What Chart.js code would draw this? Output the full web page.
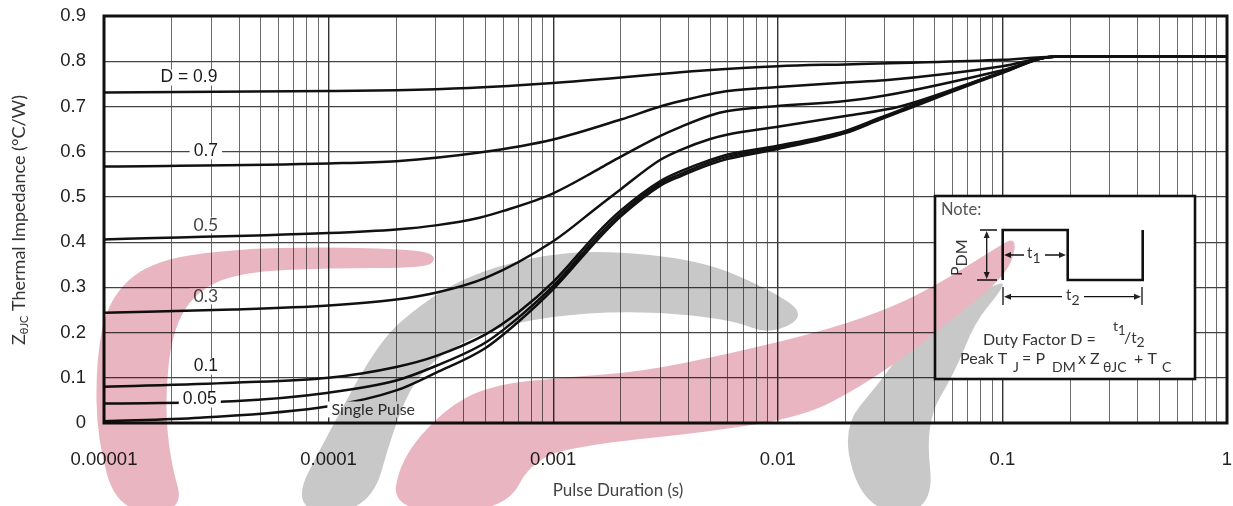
<!DOCTYPE html>
<html>
<head>
<meta charset="utf-8">
<script src="https://cdn.jsdelivr.net/npm/chart.js@4.4.0/dist/chart.umd.min.js"></script>
<style>
  html, body { margin: 0; padding: 0; background: #fff; }
  #wrap { width: 1233px; height: 506px; }
</style>
</head>
<body>
<div id="wrap"><canvas id="zth" width="1233" height="506"></canvas></div>
<script>
/* Transient thermal impedance, junction to case */

const xTickLabels = ["0.00001", "0.0001", "0.001", "0.01", "0.1", "1"];
const yTickValues = [0, 0.1, 0.2, 0.3, 0.4, 0.5, 0.6, 0.7, 0.8, 0.9];
const yTickLabels = ["0", "0.1", "0.2", "0.3", "0.4", "0.5", "0.6", "0.7", "0.8", "0.9"];

// pulse duration (s) / Zth (°C/W), one pair per duty factor
const d09Time = [1e-5, 1e-4, 2e-4, 4.2e-4, 1e-3, 2e-3, 3e-3, 4.5e-3, 1e-2, 2e-2, 3.5e-2, 0.1, 0.17, 1];
const d09Z    = [0.731, 0.734, 0.736, 0.741, 0.752, 0.764, 0.772, 0.779, 0.789, 0.793, 0.796, 0.803, 0.810, 0.810];

const d07Time = [1e-5, 1e-4, 2e-4, 4.7e-4, 1e-3, 2e-3, 3e-3, 3.7e-3, 5e-3, 6e-3, 1e-2, 2e-2, 3e-2, 0.1, 0.17, 1];
const d07Z    = [0.567, 0.574, 0.579, 0.598, 0.627, 0.671, 0.700, 0.712, 0.727, 0.734, 0.743, 0.753, 0.758, 0.789, 0.810, 0.810];

const d05Time = [1e-5, 1e-4, 2e-4, 3e-4, 4.7e-4, 6e-4, 1e-3, 1.6e-3, 2e-3, 3e-3, 3.7e-3, 5e-3, 6e-3, 1e-2, 2e-2, 3e-2, 0.1, 0.17, 1];
const d05Z    = [0.406, 0.420, 0.428, 0.437, 0.454, 0.469, 0.508, 0.562, 0.589, 0.635, 0.655, 0.680, 0.690, 0.701, 0.712, 0.724, 0.780, 0.810, 0.810];

const d03Time = [1e-5, 3.75e-5, 1e-4, 2e-4, 3e-4, 5e-4, 1e-3, 1.6e-3, 2e-3, 3e-3, 3.7e-3, 5e-3, 6e-3, 1e-2, 2e-2, 3.5e-2, 0.1, 0.17, 1];
const d03Z    = [0.244, 0.251, 0.260, 0.273, 0.288, 0.321, 0.402, 0.480, 0.517, 0.582, 0.604, 0.628, 0.638, 0.655, 0.679, 0.700, 0.776, 0.810, 0.810];

const d01Time = [1e-5, 3.75e-5, 1e-4, 2e-4, 3e-4, 5e-4, 7e-4, 1e-3, 1.6e-3, 2e-3, 3e-3, 3.7e-3, 5e-3, 6e-3, 1e-2, 2e-2, 2.85e-2, 3.5e-2, 0.1, 0.17, 1];
const d01Z    = [0.080, 0.089, 0.100, 0.124, 0.148, 0.196, 0.245, 0.312, 0.424, 0.470, 0.535, 0.557, 0.582, 0.594, 0.613, 0.646, 0.675, 0.692, 0.776, 0.810, 0.810];

const d005Time = [1e-5, 3.75e-5, 1e-4, 2e-4, 3e-4, 5e-4, 7e-4, 1e-3, 1.6e-3, 2e-3, 3e-3, 3.7e-3, 5e-3, 6e-3, 1e-2, 2e-2, 2.85e-2, 3.5e-2, 0.1, 0.17, 1];
const d005Z    = [0.043, 0.048, 0.067, 0.094, 0.126, 0.178, 0.233, 0.303, 0.416, 0.463, 0.530, 0.551, 0.577, 0.589, 0.609, 0.643, 0.673, 0.690, 0.775, 0.810, 0.810];

const singleTime = [1e-5, 2.67e-5, 1e-4, 2e-4, 3e-4, 5e-4, 7e-4, 1e-3, 1.6e-3, 2e-3, 3e-3, 3.7e-3, 5e-3, 6e-3, 1e-2, 2e-2, 2.85e-2, 3.5e-2, 0.1, 0.17, 1];
const singleZ    = [0.004, 0.0115, 0.037, 0.072, 0.111, 0.166, 0.224, 0.296, 0.409, 0.457, 0.525, 0.546, 0.572, 0.584, 0.606, 0.641, 0.671, 0.688, 0.774, 0.810, 0.810];

const SERIES = [
  [d09Time, d09Z], [d07Time, d07Z], [d05Time, d05Z], [d03Time, d03Z],
  [d01Time, d01Z], [d005Time, d005Z], [singleTime, singleZ]
];

// curve captions, anchored in data space (time, Zth)
const CAPTIONS = [
  { text: "D = 0.9", t: 2.39e-5, z: 0.764, font: '17.5px "Liberation Sans"', color: "#1a1a1a" },
  { text: "0.7", t: 2.84e-5, z: 0.601, font: '17.5px "Liberation Sans"', color: "#1a1a1a" },
  { text: "0.5", t: 2.84e-5, z: 0.437, font: "17.5px Lato", color: "#444" },
  { text: "0.3", t: 2.84e-5, z: 0.280, font: "17.5px Lato", color: "#444" },
  { text: "0.1", t: 2.84e-5, z: 0.125, font: '17.5px "Liberation Sans"', color: "#1a1a1a" },
  { text: "0.05", t: 2.67e-5, z: 0.052, font: '17.5px "Liberation Sans"', color: "#1a1a1a" },
  { text: "Single Pulse", t: 1.58e-4, z: 0.030, font: "16px Lato", color: "#333" }
];

function logTicks() {
  const out = [];
  for (let e = -5; e <= 0; e++) {
    for (let m = 1; m <= 9; m++) {
      const v = m * Math.pow(10, e);
      if (v <= 1.0000001) out.push({ value: v });
    }
  }
  return out;
}
const isDecade = v => Math.abs(Math.log10(v) - Math.round(Math.log10(v))) < 1e-6;

function runs(ctx, parts, x, y) {
  parts.forEach(([txt, dy, font]) => {
    ctx.font = font;
    ctx.fillText(txt, x, y + dy);
    x += ctx.measureText(txt).width;
  });
  return x;
}

function arrowHead(ctx, x, y, dx, dy) {
  const L = 7, W = 3;
  ctx.beginPath();
  ctx.moveTo(x, y);
  ctx.lineTo(x - dx * L - dy * W, y - dy * L + dx * W);
  ctx.lineTo(x - dx * L + dy * W, y - dy * L - dx * W);
  ctx.closePath();
  ctx.fill();
}

function blob(ctx, pts) {
  const n = pts.length;
  ctx.beginPath();
  ctx.moveTo((pts[0][0] + pts[1][0]) / 2, (pts[0][1] + pts[1][1]) / 2);
  for (let i = 1; i <= n; i++) {
    const p = pts[i % n], q = pts[(i + 1) % n];
    ctx.quadraticCurveTo(p[0], p[1], (p[0] + q[0]) / 2, (p[1] + q[1]) / 2);
  }
  ctx.closePath();
  ctx.fill();
}

function drawNote(ctx) {
  const bx = 935, by = 196, bw = 260, bh = 183;
  ctx.save();
  ctx.fillStyle = "#fff";
  ctx.fillRect(bx, by, bw, bh);
  ctx.lineWidth = 2.6;
  ctx.strokeStyle = "#111";
  ctx.strokeRect(bx, by, bw, bh);

  ctx.fillStyle = "#555";
  ctx.font = "16.5px Lato";
  ctx.textBaseline = "alphabetic";
  ctx.textAlign = "left";
  ctx.fillText("Note:", 941, 215);

  // waveform
  ctx.lineWidth = 2.6;
  ctx.beginPath();
  ctx.moveTo(1002.7, 280); ctx.lineTo(1002.7, 230); ctx.lineTo(1067.7, 230);
  ctx.lineTo(1067.7, 280); ctx.lineTo(1142.7, 280); ctx.lineTo(1142.7, 230);
  ctx.stroke();

  // P_DM arrow, t1 and t2 spans
  ctx.lineWidth = 1.3;
  ctx.fillStyle = "#222";
  ctx.beginPath();
  ctx.moveTo(980, 230); ctx.lineTo(997, 230);
  ctx.moveTo(977, 280); ctx.lineTo(997, 280);
  ctx.moveTo(986.7, 236); ctx.lineTo(986.7, 274);
  ctx.moveTo(1010, 255); ctx.lineTo(1024, 255);
  ctx.moveTo(1045, 255); ctx.lineTo(1061, 255);
  ctx.moveTo(1003, 287); ctx.lineTo(1003, 305);
  ctx.moveTo(1142, 287); ctx.lineTo(1142, 305);
  ctx.moveTo(1009, 296.7); ctx.lineTo(1062, 296.7);
  ctx.moveTo(1084, 296.7); ctx.lineTo(1136, 296.7);
  ctx.stroke();
  arrowHead(ctx, 986.7, 231, 0, -1);
  arrowHead(ctx, 986.7, 279, 0, 1);
  arrowHead(ctx, 1004, 255, -1, 0);
  arrowHead(ctx, 1066, 255, 1, 0);
  arrowHead(ctx, 1004, 296.7, -1, 0);
  arrowHead(ctx, 1141, 296.7, 1, 0);

  ctx.fillStyle = "#333";
  runs(ctx, [["t", 0, "15px Lato"], ["1", 5, "14px Lato"]], 1027, 258);
  runs(ctx, [["t", 0, "15px Lato"], ["2", 5, "14px Lato"]], 1066, 300);

  ctx.save();
  ctx.translate(962, 276);
  ctx.rotate(-Math.PI / 2);
  runs(ctx, [["P", 0, "16px Lato"], ["DM", 5, "16px Lato"]], 0, 0);
  ctx.restore();

  const f = "16px Lato", fs = "14px Lato";
  ctx.font = f;
  ctx.fillText("Duty Factor D =", 983, 345);
  runs(ctx, [["t", 0, "14px Lato"], ["1", 4, "13px Lato"]], 1113, 331);
  runs(ctx, [["/", 0, "16px Lato"], ["t", 0, "15px Lato"], ["2", 4, "14px Lato"]], 1124, 343);

  const base = 364, sub = 8;
  ctx.font = f; ctx.fillText("Peak T", 960, base);
  ctx.font = fs; ctx.fillText("J", 1013, base + sub);
  ctx.font = f; ctx.fillText("= P", 1022, base);
  ctx.font = fs; ctx.fillText("DM", 1052, base + sub);
  ctx.font = f; ctx.fillText("x Z", 1078, base);
  ctx.font = fs; ctx.fillText("\u03B8JC", 1103, base + sub);
  ctx.font = f; ctx.fillText("+ T", 1134, base);
  ctx.font = fs; ctx.fillText("C", 1162, base + sub);
  ctx.restore();
}

function drawWatermark(chart) {
  const off = document.createElement("canvas");
  off.width = chart.width; off.height = chart.height;
  const o = off.getContext("2d");
  o.fillStyle = "#fff";
  o.fillRect(0, 0, off.width, off.height);
  o.fillStyle = "rgb(200,200,200)";
  blob(o, [[288,512],[330,430],[380,340],[420,305],[465,277],[530,257],[600,250],[700,260],[767,288],[808,315],
           [770,335],[733,320],[650,311],[567,314],[500,326],[450,348],[415,378],[393,430],[370,512]]);
  blob(o, [[866,512],[840,430],[880,382],[917,332],[972,296],[1005,280],[1000,292],[975,322],[955,372],[925,423],[935,512]]);
  o.fillStyle = "rgb(233,181,192)";
  blob(o, [[118,512],[97,440],[96,360],[108,300],[148,262],[230,249],[330,247],[425,250],[437,259],
           [425,268],[330,268],[240,272],[195,292],[172,332],[165,400],[170,460],[185,512]]);
  blob(o, [[392,512],[400,460],[443,410],[490,385],[567,377],[640,372],[733,353],[827,330],[893,307],[940,283],
           [993,250],[1016,236],[1013,262],[993,287],[947,323],[910,353],[860,387],[803,417],[700,433],[600,443],
           [533,457],[505,512]]);
  const ctx = chart.ctx;
  ctx.save();
  ctx.globalCompositeOperation = "multiply";
  ctx.drawImage(off, 0, 0);
  ctx.restore();
}

const decor = {
  id: "decor",
  beforeDraw(chart) {
    const ctx = chart.ctx;
    ctx.save();
    ctx.fillStyle = "#fff";
    ctx.fillRect(0, 0, chart.width, chart.height);
    ctx.restore();
  },
  afterDatasetsDraw(chart) {
    const ctx = chart.ctx, xs = chart.scales.x, ys = chart.scales.y, a = chart.chartArea;
    ctx.save();
    ctx.textAlign = "center";
    ctx.textBaseline = "middle";
    CAPTIONS.forEach(c => {
      const px = xs.getPixelForValue(c.t), py = ys.getPixelForValue(c.z);
      ctx.font = c.font;
      const w = ctx.measureText(c.text).width;
      ctx.fillStyle = "#fff";
      ctx.fillRect(px - w / 2 - 4, py - 8, w + 8, 16);
      ctx.fillStyle = c.color;
      ctx.fillText(c.text, px, py);
    });
    ctx.lineWidth = 3;
    ctx.strokeStyle = "#111";
    ctx.strokeRect(a.left, a.top, a.right - a.left, a.bottom - a.top);
    ctx.restore();
    drawNote(ctx);
  },
  afterDraw(chart) {
    const ctx = chart.ctx;
    ctx.save();
    ctx.fillStyle = "#444";
    ctx.textAlign = "center";
    ctx.textBaseline = "middle";
    ctx.font = "17px Lato";
    ctx.fillText("Pulse Duration (s)", 618, 491);

    ctx.translate(19, 220);
    ctx.rotate(-Math.PI / 2);
    ctx.fillStyle = "#333";
    ctx.textAlign = "left";
    const parts = [["Z", 0, "18px Lato"], ["\u03B8JC", 5, "11px Lato"], [" Thermal Impedance (\u00B0C/W)", 0, "18px Lato"]];
    let w = 0;
    parts.forEach(([t, , f]) => { ctx.font = f; w += ctx.measureText(t).width; });
    runs(ctx, parts, -w / 2, 0);
    ctx.restore();

    drawWatermark(chart);
  }
};

new Chart(document.getElementById("zth"), {
  type: "line",
  data: {
    datasets: SERIES.map(([t, z]) => ({
      data: t.map((v, i) => ({ x: v, y: z[i] })),
      borderColor: "#111",
      borderWidth: 2.5,
      pointRadius: 0,
      fill: false,
      cubicInterpolationMode: "monotone"
    }))
  },
  options: {
    responsive: false,
    animation: false,
    events: [],
    layout: { padding: { top: 16, right: 6, left: 0, bottom: 0 } },
    plugins: { legend: { display: false }, tooltip: { enabled: false } },
    scales: {
      x: {
        type: "logarithmic",
        min: 1e-5,
        max: 1,
        afterFit: s => { s.height = 83; s.paddingLeft = 0; s.paddingRight = 0; },
        afterBuildTicks: s => { s.ticks = logTicks(); },
        border: { display: false },
        grid: {
          drawTicks: false,
          color: c => (c.tick && isDecade(c.tick.value) ? "#333" : "#6c6c6c"),
          lineWidth: c => (c.tick && isDecade(c.tick.value) ? 1.4 : 1)
        },
        ticks: {
          autoSkip: false,
          maxRotation: 0,
          padding: 26,
          color: "#222",
          font: { family: "Liberation Sans", size: 18.5 },
          callback: v => (isDecade(v) ? xTickLabels[Math.round(Math.log10(v)) + 5] : "")
        }
      },
      y: {
        min: 0,
        max: 0.9,
        afterFit: s => { s.width = 104; s.paddingTop = 0; s.paddingBottom = 0; },
        afterBuildTicks: s => { s.ticks = yTickValues.map(v => ({ value: v })); },
        border: { display: false },
        grid: { drawTicks: false, color: "#444", lineWidth: 1.2 },
        ticks: {
          padding: 18,
          color: "#222",
          font: { family: "Liberation Sans", size: 18.5 },
          callback: (v, i) => yTickLabels[i]
        }
      }
    }
  },
  plugins: [decor]
});
</script>
</body>
</html>
